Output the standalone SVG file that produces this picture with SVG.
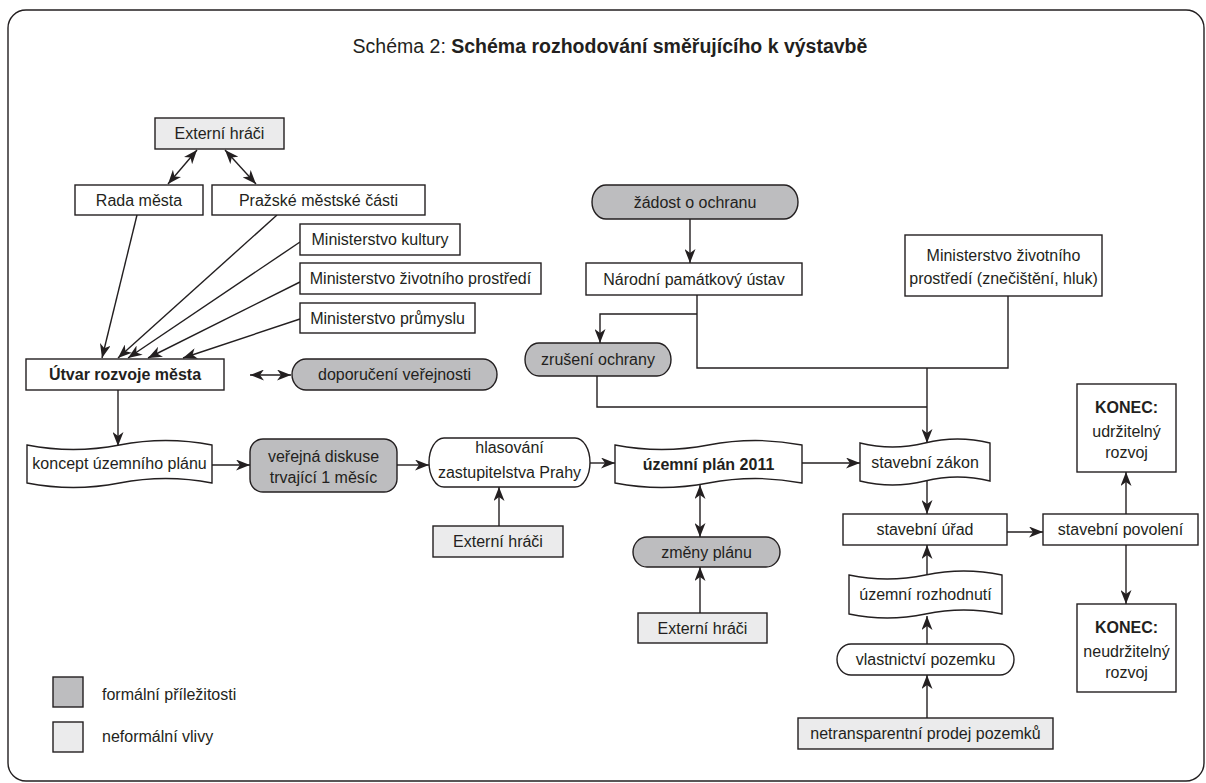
<svg xmlns="http://www.w3.org/2000/svg" width="1206" height="783" viewBox="0 0 1206 783">
<defs>
<marker id="ah" viewBox="0 0 14 11" refX="14" refY="5.5" markerWidth="14" markerHeight="11" markerUnits="userSpaceOnUse" orient="auto-start-reverse">
<path d="M0,0 L14,5.5 L0,11 L4,5.5 Z" fill="#231f20"/>
</marker>
<style>
.b{fill:#fff;stroke:#231f20;stroke-width:1.4}
.f{fill:#bdbdbf;stroke:#231f20;stroke-width:1.4}
.i{fill:#ebebec;stroke:#231f20;stroke-width:1.4}
text{font-family:"Liberation Sans",Arial,sans-serif;font-size:16px;fill:#231f20;text-anchor:middle}
.bd{font-weight:bold}
.l{text-anchor:start}
.c{fill:none;stroke:#231f20;stroke-width:1.4}
.a{marker-end:url(#ah)}
.d{marker-start:url(#ah);marker-end:url(#ah)}
</style>
</defs>
<rect x="8" y="10" width="1196" height="771" rx="18" ry="18" fill="#fff" stroke="#231f20" stroke-width="1.4"/>
<text x="610" y="53" style="font-size:19.5px"><tspan>Schéma 2: </tspan><tspan class="bd">Schéma rozhodování směřujícího k výstavbě</tspan></text>

<g id="connectors">
<line class="c d" x1="197" y1="150" x2="168" y2="184"/>
<line class="c d" x1="225" y1="150" x2="256" y2="184"/>
<line class="c a" x1="137" y1="215" x2="102" y2="358"/>
<line class="c a" x1="277" y1="215" x2="118" y2="358"/>
<line class="c a" x1="300" y1="242" x2="128" y2="358"/>
<line class="c a" x1="300" y1="282" x2="148" y2="358"/>
<line class="c a" x1="300" y1="319" x2="183" y2="358"/>
<line class="c d" x1="250" y1="375" x2="291" y2="375"/>
<line class="c a" x1="118" y1="390" x2="118" y2="446"/>
<line class="c a" x1="212" y1="465" x2="250" y2="465"/>
<line class="c a" x1="397" y1="465" x2="429" y2="465"/>
<line class="c a" x1="590" y1="463" x2="615" y2="463"/>
<line class="c a" x1="802" y1="463" x2="860" y2="463"/>
<line class="c a" x1="499" y1="526" x2="499" y2="487"/>
<line class="c d" x1="700" y1="485" x2="700" y2="537"/>
<line class="c a" x1="700" y1="613" x2="700" y2="567"/>
<line class="c a" x1="690" y1="219" x2="690" y2="263"/>
<polyline class="c" points="697,295 697,368 1008,368 1008,296"/>
<polyline class="c a" points="697,314 600,314 600,343"/>
<polyline class="c" points="597,376 597,407 927,407"/>
<line class="c a" x1="927" y1="368" x2="927" y2="443"/>
<line class="c a" x1="927" y1="481" x2="927" y2="514"/>
<line class="c a" x1="927" y1="576" x2="927" y2="545"/>
<line class="c a" x1="927" y1="644" x2="927" y2="616"/>
<line class="c a" x1="927" y1="718" x2="927" y2="675"/>
<line class="c a" x1="1007" y1="532" x2="1043" y2="532"/>
<line class="c a" x1="1126" y1="514" x2="1126" y2="472"/>
<line class="c a" x1="1126" y1="545" x2="1126" y2="604"/>
</g>

<g id="ext1"><rect class="i" x="155" y="118" width="129" height="31"/><text x="219.5" y="139">Externí hráči</text></g>
<g id="rada"><rect class="b" x="75" y="185" width="128" height="30"/><text x="139" y="205.5">Rada města</text></g>
<g id="prazske"><rect class="b" x="212" y="185" width="213" height="30"/><text x="318.5" y="205.5">Pražské městské části</text></g>
<g id="min-kultury"><rect class="b" x="300" y="224" width="160" height="31"/><text x="380" y="245">Ministerstvo kultury</text></g>
<g id="min-zp"><rect class="b" x="300" y="263" width="241" height="31"/><text x="420.5" y="284">Ministerstvo životního prostředí</text></g>
<g id="min-prumyslu"><rect class="b" x="300" y="303" width="175" height="30"/><text x="387.5" y="323.5">Ministerstvo průmyslu</text></g>
<g id="utvar"><rect class="b" x="26" y="359" width="198" height="31"/><text class="bd" x="125" y="380">Útvar rozvoje města</text></g>
<g id="doporuceni"><rect class="f" x="292" y="359" width="205" height="31" rx="14" ry="15.5"/><text x="394.5" y="380">doporučení veřejnosti</text></g>
<g id="zadost"><rect class="f" x="592" y="185" width="206" height="34" rx="14" ry="17"/><text x="695" y="207.5">žádost o ochranu</text></g>
<g id="narodni"><rect class="b" x="586" y="263" width="216" height="32"/><text x="694" y="284.5">Národní památkový ústav</text></g>
<g id="min-zp2"><rect class="b" x="905" y="235" width="197" height="61"/><text x="1003.5" y="261">Ministerstvo životního</text><text x="1003.5" y="284">prostředí (znečištění, hluk)</text></g>
<g id="zruseni"><rect class="f" x="525" y="343" width="146" height="33" rx="14" ry="16.5"/><text x="598" y="365">zrušení ochrany</text></g>
<g id="koncept"><path class="b" d="M27,445 Q73.25,454 119.5,445 T212,445 L212,483 Q165.75,474 119.5,483 T27,483 Z"/><text x="119.5" y="469">koncept územního plánu</text></g>
<g id="verejna"><rect class="f" x="250" y="439" width="147" height="53" rx="13" ry="13"/><text x="323.5" y="462">veřejná diskuse</text><text x="323.5" y="483">trvající 1 měsíc</text></g>
<g id="hlasovani"><rect class="b" x="429" y="438" width="161" height="49" rx="15" ry="24.5"/><text x="509.5" y="453">hlasování</text><text x="509.5" y="478">zastupitelstva Prahy</text></g>
<g id="uzemni-plan"><path class="b" d="M615,445 Q661.75,454 708.5,445 T802,445 L802,483 Q755.25,474 708.5,483 T615,483 Z"/><text class="bd" x="708.5" y="470">územní plán 2011</text></g>
<g id="stavebni-zakon"><path class="b" d="M860,443 Q892.5,451 925,443 T990,443 L990,481 Q957.5,473 925,481 T860,481 Z"/><text x="925" y="468">stavební zákon</text></g>
<g id="ext2"><rect class="i" x="433" y="526" width="130" height="31"/><text x="498" y="547">Externí hráči</text></g>
<g id="zmeny"><rect class="f" x="633" y="537" width="147" height="30" rx="14" ry="15"/><text x="706.5" y="557.5">změny plánu</text></g>
<g id="ext3"><rect class="i" x="638" y="613" width="129" height="30"/><text x="702.5" y="633.5">Externí hráči</text></g>
<g id="stavebni-urad"><rect class="b" x="843" y="514" width="164" height="31"/><text x="925" y="535">stavební úřad</text></g>
<g id="uzemni-rozhodnuti"><path class="b" d="M849,575 Q887.25,583 925.5,575 T1002,575 L1002,614 Q963.75,606 925.5,614 T849,614 Z"/><text x="925.5" y="600">územní rozhodnutí</text></g>
<g id="vlastnictvi"><rect class="b" x="837" y="644" width="177" height="31" rx="14" ry="15.5"/><text x="925.5" y="665">vlastnictví pozemku</text></g>
<g id="netransparentni"><rect class="i" x="798" y="718" width="255" height="31"/><text x="925.5" y="739">netransparentní prodej pozemků</text></g>
<g id="stavebni-povoleni"><rect class="b" x="1043" y="514" width="155" height="31"/><text x="1120.5" y="535">stavební povolení</text></g>
<g id="konec-udrzitelny"><rect class="b" x="1077" y="384" width="99" height="88"/><text class="bd" x="1126.5" y="413">KONEC:</text><text x="1126.5" y="437">udržitelný</text><text x="1126.5" y="458">rozvoj</text></g>
<g id="konec-neudrzitelny"><rect class="b" x="1077" y="604" width="99" height="88"/><text class="bd" x="1126.5" y="633">KONEC:</text><text x="1126.5" y="657">neudržitelný</text><text x="1126.5" y="678">rozvoj</text></g>
<g id="legend">
<rect class="f" x="53" y="677" width="30" height="30"/><text class="l" x="102" y="700">formální příležitosti</text>
<rect class="i" x="53" y="722" width="30" height="30"/><text class="l" x="102" y="742">neformální vlivy</text>
</g>
</svg>
